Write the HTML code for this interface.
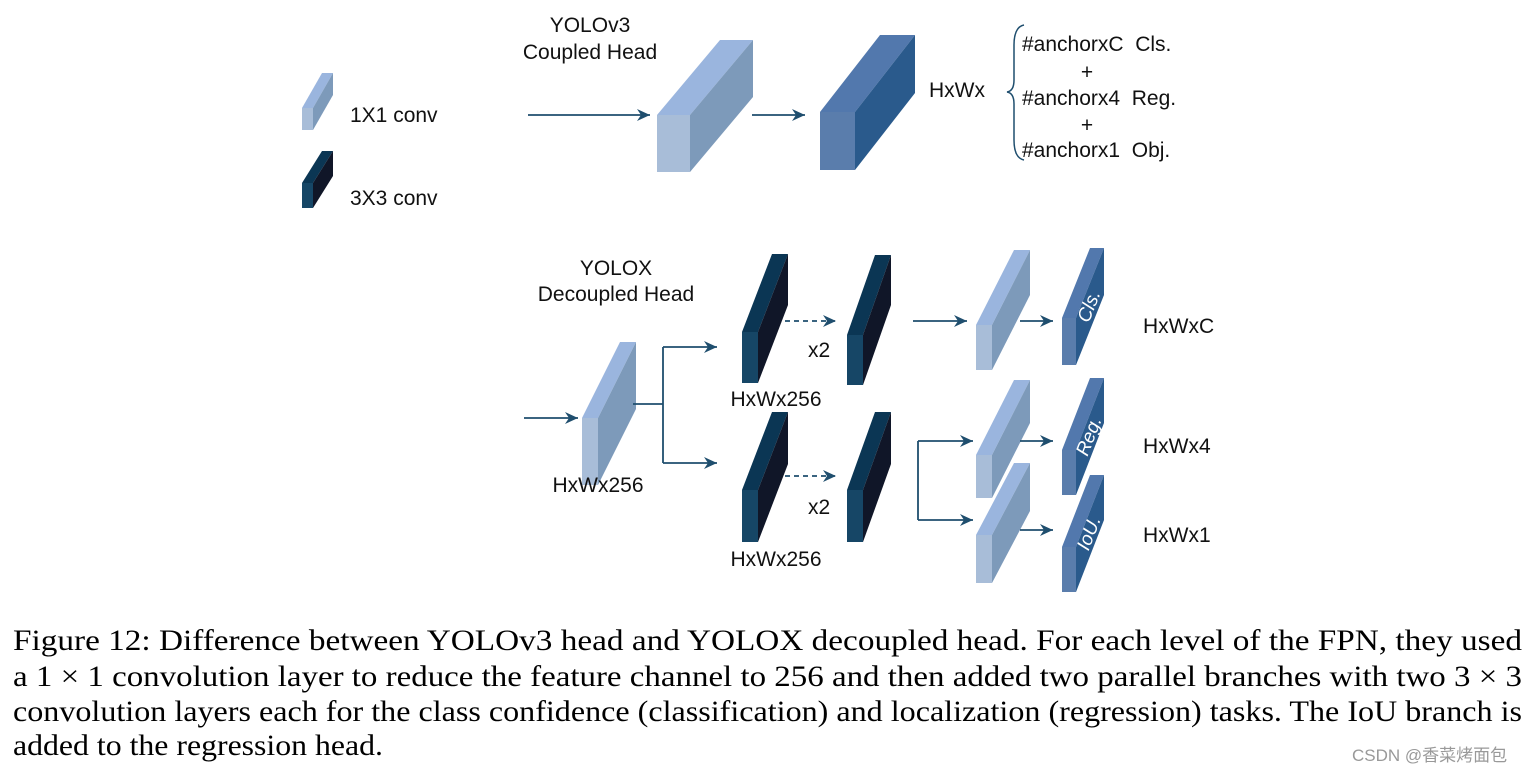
<!DOCTYPE html>
<html><head><meta charset="utf-8"><style>
html,body{margin:0;padding:0;background:#fff;width:1540px;height:774px;overflow:hidden}
svg{display:block}
.s{font-family:"Liberation Sans",sans-serif;font-size:21px;fill:#111}
.c{font-family:"Liberation Serif",serif;font-size:30px;fill:#000}
</style></head><body>
<svg id="sv" width="1540" height="774" viewBox="0 0 1540 774" xmlns="http://www.w3.org/2000/svg">
<defs>
<marker id="ah" markerWidth="14" markerHeight="14" refX="13" refY="6" orient="auto" markerUnits="userSpaceOnUse">
<path d="M0,0 L13,6 L0,12 L4,6 z" fill="#1f4e6e"/></marker>
</defs>
<g id="boxes"></g>
<g stroke="#1f4e6e" stroke-width="1.8" fill="none">
<line x1="528" y1="115" x2="650" y2="115" marker-end="url(#ah)"/>
<line x1="752" y1="115" x2="805" y2="115" marker-end="url(#ah)"/>
<line x1="524" y1="418" x2="578" y2="418" marker-end="url(#ah)"/>
<polyline points="633,404 663,404"/>
<line x1="663" y1="347" x2="663" y2="463"/>
<line x1="663" y1="347" x2="717" y2="347" marker-end="url(#ah)"/>
<line x1="663" y1="463" x2="717" y2="463" marker-end="url(#ah)"/>
<line x1="785" y1="321" x2="836" y2="321" stroke-dasharray="5,4" marker-end="url(#ah)"/>
<line x1="785" y1="476" x2="836" y2="476" stroke-dasharray="5,4" marker-end="url(#ah)"/>
<line x1="913" y1="321" x2="967" y2="321" marker-end="url(#ah)"/>
<line x1="1020" y1="321" x2="1053" y2="321" marker-end="url(#ah)"/>
<line x1="918" y1="441" x2="918" y2="520"/>
<line x1="918" y1="441" x2="973" y2="441" marker-end="url(#ah)"/>
<line x1="918" y1="520" x2="973" y2="520" marker-end="url(#ah)"/>
<line x1="1020" y1="441" x2="1053" y2="441" marker-end="url(#ah)"/>
<line x1="1020" y1="530" x2="1053" y2="530" marker-end="url(#ah)"/>
<path d="M1024,25 Q1014,27 1014,45 L1014,80 Q1014,91 1007,92 Q1014,93 1014,104 L1014,140 Q1014,158 1024,160" stroke-width="1.5"/>
</g>
<g class="s">
<text x="590" y="32" text-anchor="middle">YOLOv3</text>
<text x="590" y="59" text-anchor="middle">Coupled Head</text>
<text x="350" y="122">1X1 conv</text>
<text x="350" y="205">3X3 conv</text>
<text x="929" y="97">HxWx</text>
<text x="1022" y="51">#anchorxC&#160;&#160;Cls.</text>
<text x="1087" y="79" text-anchor="middle">+</text>
<text x="1022" y="105">#anchorx4&#160;&#160;Reg.</text>
<text x="1087" y="132" text-anchor="middle">+</text>
<text x="1022" y="157">#anchorx1&#160;&#160;Obj.</text>
<text x="616" y="275" text-anchor="middle">YOLOX</text>
<text x="616" y="301" text-anchor="middle">Decoupled Head</text>
<text x="598" y="492" text-anchor="middle">HxWx256</text>
<text x="776" y="406" text-anchor="middle">HxWx256</text>
<text x="776" y="566" text-anchor="middle">HxWx256</text>
<text x="808" y="357">x2</text>
<text x="808" y="514">x2</text>
<text x="1143" y="333">HxWxC</text>
<text x="1143" y="453">HxWx4</text>
<text x="1143" y="542">HxWx1</text>
</g>
<g class="c">
<text x="13" y="650" textLength="1509" lengthAdjust="spacingAndGlyphs">Figure 12: Difference between YOLOv3 head and YOLOX decoupled head. For each level of the FPN, they used</text>
<text x="13" y="686" textLength="1509" lengthAdjust="spacingAndGlyphs">a 1 × 1 convolution layer to reduce the feature channel to 256 and then added two parallel branches with two 3 × 3</text>
<text x="13" y="721" textLength="1509" lengthAdjust="spacingAndGlyphs">convolution layers each for the class confidence (classification) and localization (regression) tasks. The IoU branch is</text>
<text x="13" y="755" textLength="370" lengthAdjust="spacingAndGlyphs">added to the regression head.</text>
</g>
<text x="1352" y="761" font-family="Liberation Sans, Noto Sans CJK SC, sans-serif" font-size="17" fill="#999">CSDN @香菜烤面包</text>
</svg>
<script>
var C={L:['#a8bdd8','#9ab5de','#7d9aba'],M:['#5a7dac','#5278ad','#2a5a8c'],D:['#164666','#0b3654','#101628']};
var B=[[302,108,11,22,20,35,'L'],[302,183,11,25,20,32,'D'],[657,115,33,57,63,75,'L'],[820,112,35,58,60,77,'M'],
[582,418,16,67,38,76,'L'],[742,332,16,51,30,78,'D'],[847,335,16,50,28,80,'D'],[742,490,16,52,30,78,'D'],[847,490,16,52,28,78,'D'],
[976,325,16,45,38,75,'L'],[976,455,16,43,38,75,'L'],[976,535,16,48,38,72,'L'],
[1062,318,14,47,28,70,'M',"Cls."],[1062,450,14,45,28,72,'M',"Reg."],[1062,547,14,45,28,72,'M',"IoU."]];
var g=document.getElementById('boxes'),h='';
B.forEach(function(b){var x=b[0],y=b[1],w=b[2],H=b[3],dx=b[4],dy=b[5],c=C[b[6]];
function P(a,col){return '<polygon points="'+a.map(function(p){return p.join(',')}).join(' ')+'" fill="'+col+'"/>';}
h+=P([[x,y],[x+w,y],[x+w,y+H],[x,y+H]],c[0]);
h+=P([[x,y],[x+dx,y-dy],[x+w+dx,y-dy],[x+w,y]],c[1]);
h+=P([[x+w,y],[x+w+dx,y-dy],[x+w+dx,y+H-dy],[x+w,y+H]],c[2]);
if(b[7]){var cx=x+w+dx/2,cy=y+H/2-dy/2,ang=-Math.atan2(dy,dx)*180/Math.PI;
h+='<text x="'+cx+'" y="'+cy+'" fill="#fff" font-family="Liberation Sans,sans-serif" font-style="italic" font-size="19" text-anchor="middle" dominant-baseline="middle" transform="rotate('+ang+' '+cx+' '+cy+')">'+b[7]+'</text>';}
});
g.innerHTML=h;
</script>
</body></html>
